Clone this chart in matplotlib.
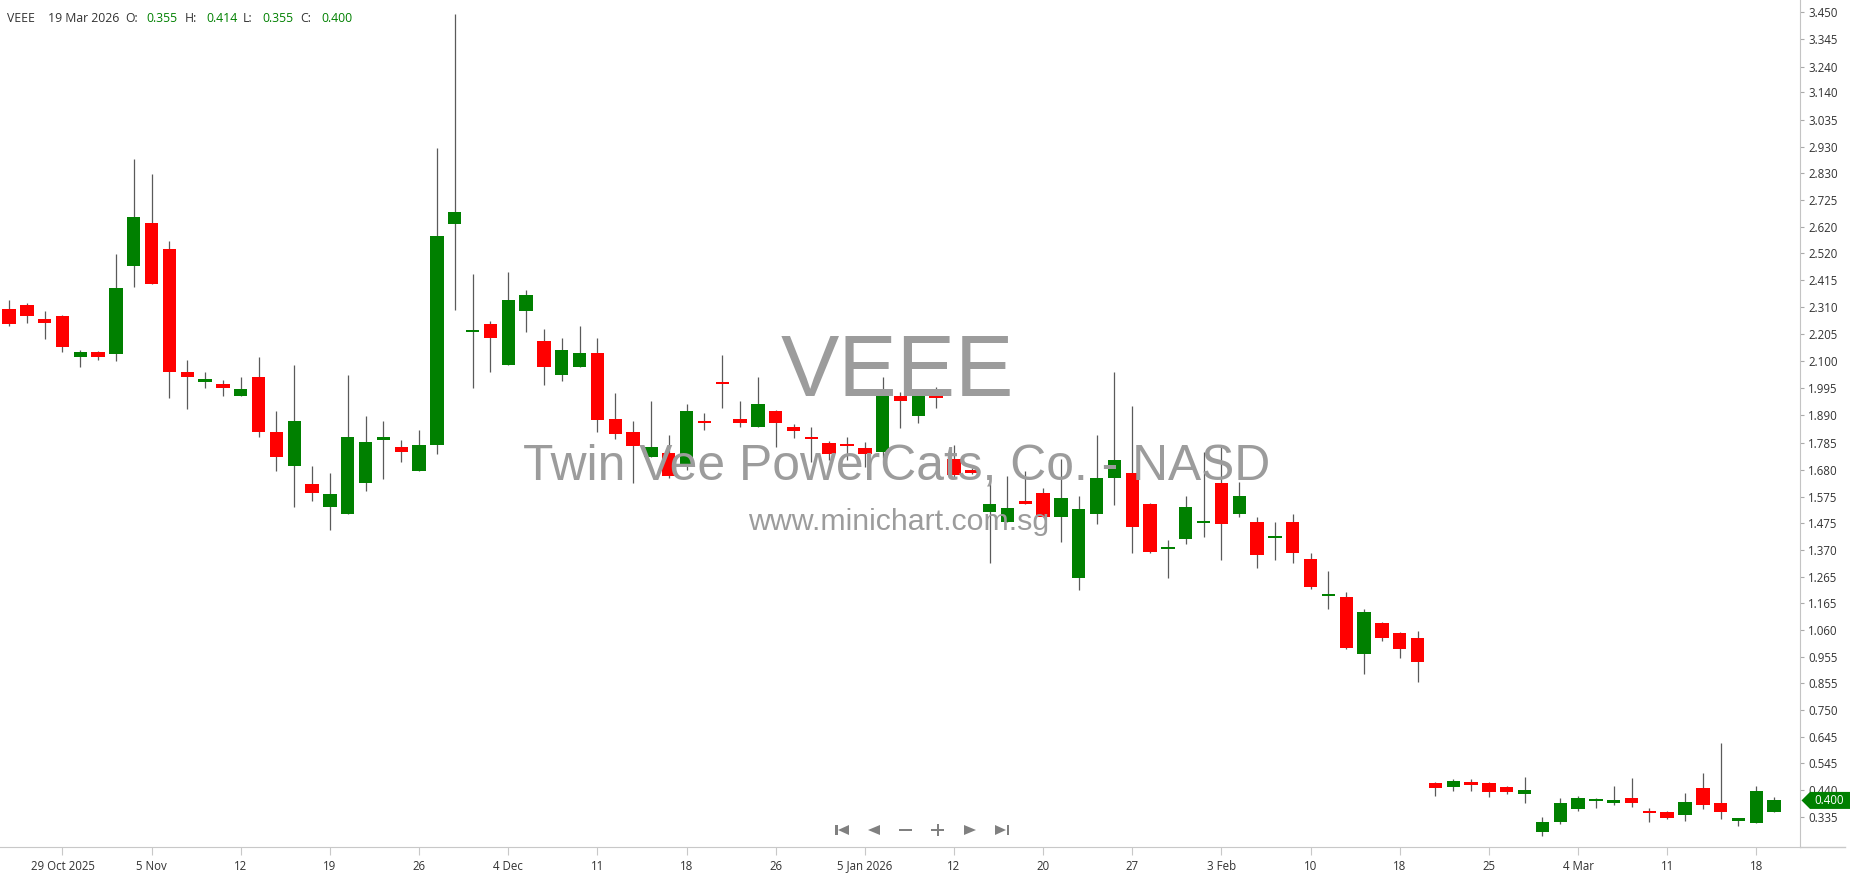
import matplotlib
matplotlib.use('Agg')
import matplotlib.pyplot as plt
from matplotlib.patches import Polygon
import numpy as np
import pandas as pd

W, H = 1850, 874

holidays = ['2025-11-27', '2025-12-25', '2026-01-01', '2026-01-19', '2026-02-16']
dates = pd.bdate_range('2025-10-24', '2026-03-19')
dates = dates[~dates.isin(pd.to_datetime(holidays))]

opens = [2.303, 2.318, 2.264, 2.275, 2.116, 2.134, 2.126, 2.469, 2.636, 2.535,
         2.057, 2.018, 2.010, 1.966, 2.037, 1.825, 1.695, 1.626, 1.536, 1.507,
         1.627, 1.796, 1.767, 1.676, 1.777, 2.629, 2.212, 2.245, 2.086, 2.295,
         2.178, 2.048, 2.078, 2.133, 1.877, 1.824, 1.729, 1.746, 1.690, 1.869,
         2.018, 1.877, 1.846, 1.907, 1.844, 1.806, 1.784, 1.776, 1.765, 1.749,
         1.964, 1.889, 1.994, 1.720, 1.676, 1.517, 1.479, 1.559, 1.589, 1.498,
         1.260, 1.507, 1.647, 1.666, 1.546, 1.372, 1.411, 1.474, 1.627, 1.507,
         1.476, 1.416, 1.476, 1.335, 1.190, 1.186, 0.967, 1.085, 1.047, 1.027,
         0.466, 0.453, 0.466, 0.466, 0.452, 0.424, 0.279, 0.318, 0.367, 0.397,
         0.391, 0.408, 0.355, 0.354, 0.344, 0.447, 0.389, 0.322, 0.314, 0.355]
highs = [2.337, 2.324, 2.294, 2.279, 2.143, 2.138, 2.516, 2.883, 2.825, 2.564,
         2.104, 2.057, 2.027, 2.037, 2.115, 1.907, 2.085, 1.694, 1.666, 2.046,
         1.888, 1.868, 1.795, 1.834, 2.926, 3.443, 2.439, 2.256, 2.444, 2.376,
         2.225, 2.188, 2.235, 2.188, 1.975, 1.869, 1.946, 1.815, 1.936, 1.899,
         2.124, 1.946, 2.037, 1.909, 1.858, 1.844, 1.790, 1.805, 1.787, 2.037,
         1.980, 1.964, 1.998, 1.775, 1.685, 1.653, 1.657, 1.676, 1.608, 1.720,
         1.578, 1.814, 2.057, 1.926, 1.550, 1.408, 1.578, 1.747, 1.769, 1.633,
         1.496, 1.476, 1.507, 1.356, 1.289, 1.205, 1.140, 1.089, 1.051, 1.057,
         0.470, 0.482, 0.482, 0.470, 0.457, 0.491, 0.335, 0.408, 0.417, 0.408,
         0.457, 0.486, 0.370, 0.359, 0.428, 0.505, 0.621, 0.327, 0.457, 0.414]
lows = [2.237, 2.246, 2.187, 2.134, 2.076, 2.106, 2.101, 2.386, 2.397, 1.956,
        1.916, 1.995, 1.966, 1.966, 1.805, 1.676, 1.536, 1.560, 1.448, 1.507,
        1.599, 1.645, 1.710, 1.676, 1.740, 2.296, 1.995, 2.059, 2.086, 2.214,
        2.008, 2.025, 2.078, 1.825, 1.798, 1.628, 1.729, 1.649, 1.679, 1.835,
        1.919, 1.846, 1.846, 1.767, 1.801, 1.709, 1.719, 1.719, 1.692, 1.726,
        1.842, 1.859, 1.919, 1.653, 1.663, 1.318, 1.476, 1.546, 1.498, 1.401,
        1.214, 1.470, 1.543, 1.356, 1.356, 1.260, 1.391, 1.421, 1.330, 1.498,
        1.298, 1.330, 1.320, 1.217, 1.141, 0.985, 0.889, 1.018, 0.950, 0.859,
        0.418, 0.438, 0.438, 0.414, 0.424, 0.389, 0.263, 0.308, 0.360, 0.372,
        0.382, 0.376, 0.318, 0.328, 0.322, 0.366, 0.328, 0.302, 0.311, 0.355]
closes = [2.243, 2.275, 2.248, 2.155, 2.134, 2.116, 2.384, 2.657, 2.397, 2.058,
          2.039, 2.030, 1.995, 1.993, 1.826, 1.729, 1.868, 1.589, 1.587, 1.805,
          1.786, 1.805, 1.748, 1.777, 2.584, 2.676, 2.218, 2.190, 2.337, 2.356,
          2.078, 2.143, 2.133, 1.871, 1.817, 1.770, 1.767, 1.657, 1.907, 1.861,
          2.010, 1.861, 1.935, 1.859, 1.828, 1.798, 1.740, 1.770, 1.740, 1.964,
          1.947, 1.964, 1.957, 1.658, 1.668, 1.546, 1.533, 1.546, 1.498, 1.569,
          1.527, 1.647, 1.717, 1.459, 1.363, 1.376, 1.534, 1.479, 1.470, 1.578,
          1.350, 1.420, 1.359, 1.227, 1.194, 0.989, 1.128, 1.028, 0.985, 0.936,
          0.448, 0.475, 0.461, 0.432, 0.432, 0.441, 0.316, 0.389, 0.408, 0.404,
          0.395, 0.391, 0.351, 0.332, 0.393, 0.381, 0.356, 0.327, 0.438, 0.400]

yticks = [3.450, 3.345, 3.240, 3.140, 3.035, 2.930, 2.830, 2.725, 2.620, 2.520,
          2.415, 2.310, 2.205, 2.100, 1.995, 1.890, 1.785, 1.680, 1.575, 1.475,
          1.370, 1.265, 1.165, 1.060, 0.955, 0.855, 0.750, 0.645, 0.545, 0.440,
          0.335]

tick_dates = ['2025-10-29', '2025-11-05', '2025-11-12', '2025-11-19', '2025-11-26',
              '2025-12-04', '2025-12-11', '2025-12-18', '2025-12-26', '2026-01-05',
              '2026-01-12', '2026-01-20', '2026-01-27', '2026-02-03', '2026-02-10',
              '2026-02-18', '2026-02-25', '2026-03-04', '2026-03-11', '2026-03-18']
tick_labels = ['29 Oct 2025', '5 Nov', '12', '19', '26', '4 Dec', '11', '18', '26',
               '5 Jan 2026', '12', '20', '27', '3 Feb', '10', '18', '25', '4 Mar',
               '11', '18']

UP = '#008000'
DOWN = '#ff0000'
TXT = '#333333'
FONT = 'Open Sans'


def fx(px):
    return px / W


def fy(py):
    return 1 - py / H


fig = plt.figure(figsize=(W / 100, H / 100), dpi=100)
ax = fig.add_axes([0, fy(847), fx(1800), 847 / H])

o = np.array(opens)
c = np.array(closes)
x = np.arange(len(dates))
up = c >= o
colors = np.where(up, UP, DOWN)
bottom = np.minimum(o, c)
height = np.maximum(np.abs(c - o), 0.009)

ax.vlines(x, lows, highs, color='#5a5a5a', lw=0.9, zorder=2)
ax.bar(x, height, bottom=bottom, width=0.75, color=colors, linewidth=0, zorder=3)

ax.set_xlim(-0.505, 100.45)
ax.set_ylim(0.2197, 3.4976)

# axis styling
for s in ['top', 'left']:
    ax.spines[s].set_visible(False)
ax.spines['right'].set_color('#c4c4c4')
ax.spines['bottom'].set_color('#c8c8c8')
ax.yaxis.tick_right()
ax.set_yticks(yticks)
ax.set_yticklabels([f'{v:.3f}' for v in yticks])
ax.tick_params(axis='y', length=3, color='#aaaaaa', labelsize=8.3,
               labelcolor=TXT, pad=3)
pos = [dates.get_loc(pd.Timestamp(d)) for d in tick_dates]
ax.set_xticks(pos)
ax.set_xticklabels(tick_labels)
ax.tick_params(axis='x', length=6, color='#c8c8c8', labelsize=8.3,
               labelcolor=TXT, pad=3)
for lab in ax.get_xticklabels() + ax.get_yticklabels():
    lab.set_family(FONT)
fig.add_artist(plt.Line2D([fx(1800), fx(1845)], [fy(847), fy(847)],
                          color='#c8c8c8', lw=1))

# watermark
wm = dict(color='#9c9c9c', family='Liberation Sans', ha='center',
          va='baseline', zorder=0)
fig.text(fx(897), fy(396), 'VEEE', fontsize=63, **wm)
fig.text(fx(897), fy(480), 'Twin Vee PowerCats, Co. - NASD', fontsize=35.8,
         **wm)
fig.text(fx(899), fy(530), 'www.minichart.com.sg', fontsize=21.8, **wm)

# header
header = [(7, 'VEEE', TXT), (48, '19 Mar 2026', TXT), (125, 'O:', TXT),
          (146, f'{opens[-1]:.3f}', UP), (185, 'H:', TXT),
          (206, f'{highs[-1]:.3f}', UP), (243, 'L:', TXT),
          (262, f'{lows[-1]:.3f}', UP), (300, 'C:', TXT),
          (321, f'{closes[-1]:.3f}', UP)]
for px, s, col in header:
    fig.text(fx(px), fy(18), s, color=col, fontsize=8.8, family=FONT,
             ha='left', va='center')

# last price marker
last = closes[-1]
ymark = 12.3 + (3.45 - last) * 258.4
pts = [(1801.5, ymark), (1810, ymark - 8.5), (1850, ymark - 8.5),
       (1850, ymark + 8.5), (1810, ymark + 8.5)]
fig.add_artist(Polygon([(fx(a), fy(b)) for a, b in pts], closed=True,
                       facecolor=UP, edgecolor='none',
                       transform=fig.transFigure))
fig.text(fx(1829), fy(ymark), f'{last:.3f}', color='white', fontsize=8.3,
         family=FONT, ha='center', va='center')

# navigation buttons
NAV = '#808080'
yc = 830


def tri(xl, xr, pointing_left):
    if pointing_left:
        p = [(xl, yc), (xr, yc - 5), (xr, yc + 5)]
    else:
        p = [(xl, yc - 5), (xl, yc + 5), (xr, yc)]
    fig.add_artist(Polygon([(fx(a), fy(b)) for a, b in p], closed=True,
                           facecolor=NAV, edgecolor='none',
                           transform=fig.transFigure))


def bar(x0, x1, y0, y1):
    fig.add_artist(Polygon([(fx(x0), fy(y0)), (fx(x1), fy(y0)),
                            (fx(x1), fy(y1)), (fx(x0), fy(y1))], closed=True,
                           facecolor=NAV, edgecolor='none',
                           transform=fig.transFigure))


bar(835, 837.5, yc - 5, yc + 5)
tri(838, 849, True)
tri(868, 880, True)
bar(899, 912, yc - 1, yc + 1)
bar(931, 944, yc - 1, yc + 1)
bar(936.5, 938.5, yc - 6, yc + 6)
tri(964, 976, False)
tri(995, 1006, False)
bar(1006.5, 1009, yc - 5, yc + 5)

fig.savefig('out.png', dpi=100)
